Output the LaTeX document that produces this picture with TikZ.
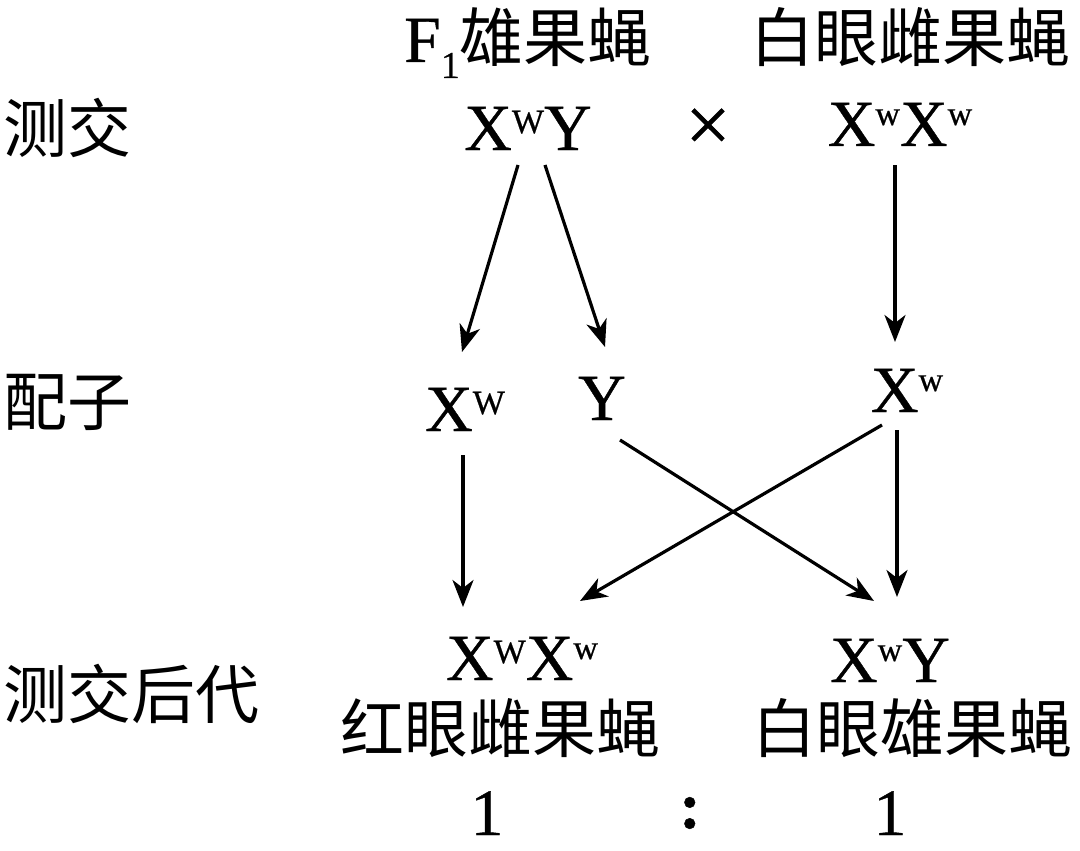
\documentclass[tikz,border=0pt]{standalone}
\usepackage{fontspec}
\setmainfont{Liberation Serif}[FakeBold=0.6]
\newfontfamily\cjk{Noto Sans CJK SC}
\usetikzlibrary{arrows.meta}
\newcommand\supW{\raisebox{17pt}{\fontsize{34}{34}\selectfont W}}
\newcommand\supw{\raisebox{21pt}{\fontsize{34}{34}\selectfont w}}
\newcommand\subone{\raisebox{-16pt}{\fontsize{38}{38}\selectfont 1}}
\begin{document}
\begin{tikzpicture}[x=1pt,y=-1pt,
  gen/.style={inner sep=0pt,anchor=base,font=\fontsize{66}{66}\selectfont},
  zh/.style={inner sep=0pt,anchor=base,font=\fontsize{64}{64}\selectfont\cjk},
  zhl/.style={inner sep=0pt,anchor=base west,font=\fontsize{64}{64}\selectfont\cjk},
  arr/.style={line width=3.2pt,-{Stealth[length=27pt,width=21pt,inset=8pt]}}]
\useasboundingbox (0,0) rectangle (1080,851);
% titles
\node[gen] (t1) at (528,62) {F\subone{\cjk\fontsize{64}{64}\selectfont 雄果蝇}};
\node[zh] (t2) at (910,62) {白眼雌果蝇};
% left labels
\node[zhl] (l1) at (3,153) {测交};
\node[zhl] (l2) at (3,425) {配子};
\node[zhl] (l3) at (3,718) {测交后代};
% parents
\node[gen] (p1) at (528,150) {X\supW Y};
\node[inner sep=0pt,font=\fontsize{80}{80}\selectfont] (x) at (708,130) {×};
\node[gen] (p2) at (900,146) {X\supw X\supw};
% gametes
\node[gen] (g1) at (465,431) {X\supW};
\node[gen] (g2) at (602,420) {Y};
\node[gen] (g3) at (907,412) {X\supw};
% offspring
\node[gen] (o1) at (522,680) {X\supW X\supw};
\node[gen] (o2) at (890,682) {X\supw Y};
\node[zh] (o3) at (500,752) {红眼雌果蝇};
\node[zh] (o4) at (912,752) {白眼雄果蝇};
\node[gen] (r1) at (487,835) {1};
\node[gen] (rc) at (690,828) {\textbf{:}};
\node[gen] (r2) at (890,835) {1};
% arrow end points
\coordinate (a1s) at (518,165); \coordinate (a1e) at (462,352);
\coordinate (a2s) at (545,165); \coordinate (a2e) at (605,347);
\coordinate (a3s) at (895,165); \coordinate (a3e) at (895,342);
\coordinate (a4s) at (463,455); \coordinate (a4e) at (463,607);
\coordinate (a5s) at (620,440); \coordinate (a5e) at (874,601);
\coordinate (a6s) at (882,425); \coordinate (a6e) at (580,601);
\coordinate (a7s) at (897,430); \coordinate (a7e) at (897,597);
\draw[arr] (a1s) -- (a1e);
\draw[arr] (a2s) -- (a2e);
\draw[arr] (a3s) -- (a3e);
\draw[arr] (a4s) -- (a4e);
\draw[arr] (a5s) -- (a5e);
\draw[arr] (a6s) -- (a6e);
\draw[arr] (a7s) -- (a7e);
\end{tikzpicture}
\end{document}
